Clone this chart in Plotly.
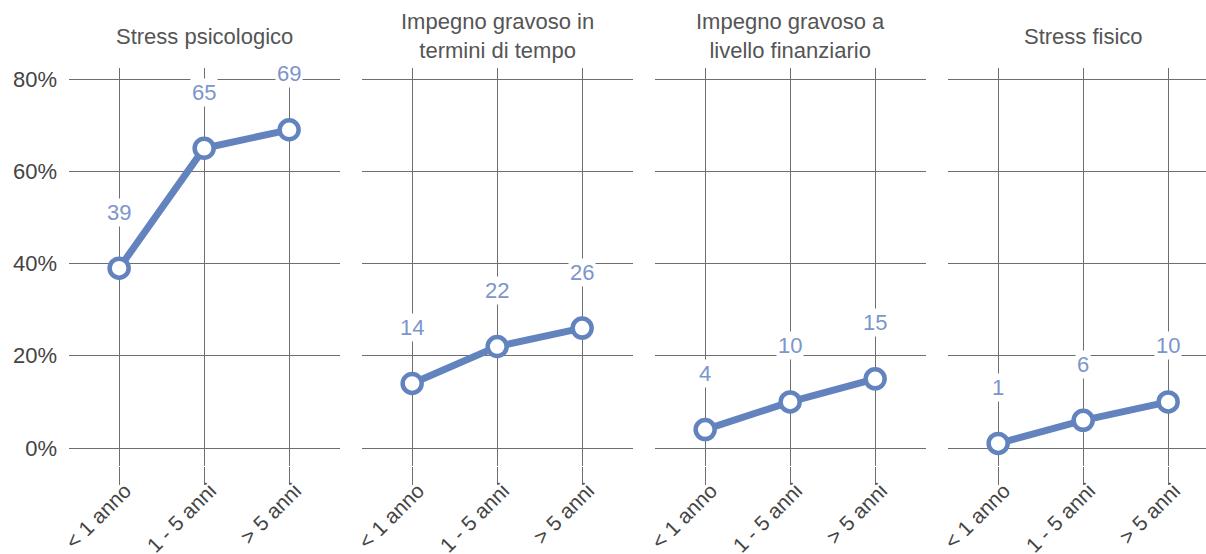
import plotly.graph_objects as go

# Survey results: share of respondents per burden type, by time spent caregiving
categories = ["< 1 anno", "1 - 5 anni", "> 5 anni"]
panel_titles = [
    "Stress psicologico",
    "Impegno gravoso in<br>termini di tempo",
    "Impegno gravoso a<br>livello finanziario",
    "Stress fisico",
]
stress_psicologico = [39, 65, 69]
impegno_tempo = [14, 22, 26]
impegno_finanziario = [4, 10, 15]
stress_fisico = [1, 6, 10]
series = [stress_psicologico, impegno_tempo, impegno_finanziario, stress_fisico]
y_ticks = [0, 20, 40, 60, 80]

LINE_BLUE = "#6383bf"
LABEL_BLUE = "#7c95cb"
GRID = "#6e6e6e"
TEXT = "#555555"
FONT = "Liberation Sans"

W, H = 1206, 554
ML = 69
plot_w = W - ML
panel_px = 271
step_px = 293

fig = go.Figure()

for i, vals in enumerate(series):
    n = i + 1
    xa = "x" if n == 1 else f"x{n}"
    ya = "y" if n == 1 else f"y{n}"
    x0 = i * step_px
    x1 = min(x0 + panel_px, plot_w)
    dom = [x0 / plot_w, x1 / plot_w]
    xr_max = -0.59 + (x1 - x0) / 85.0

    fig.add_trace(go.Scatter(
        x=categories, y=vals, xaxis=xa, yaxis=ya,
        mode="lines+markers",
        line=dict(color=LINE_BLUE, width=7),
        marker=dict(size=19, color="white", line=dict(color=LINE_BLUE, width=4.5)),
        cliponaxis=False, showlegend=False, hoverinfo="skip",
    ))

    fig.layout[f"xaxis{'' if n == 1 else n}"] = dict(
        domain=dom, anchor=ya, type="category",
        range=[-0.59, xr_max], automargin=False,
        showgrid=True, gridcolor=GRID, gridwidth=1,
        ticks="outside", ticklen=18, tickcolor=GRID, tickwidth=1,
        ticklabelstandoff=-15, ticklabelshift=6,
        tickangle=-45, tickfont=dict(family=FONT, size=21, color="#444444"),
        showline=False, zeroline=False, fixedrange=True,
    )
    fig.layout[f"yaxis{'' if n == 1 else n}"] = dict(
        domain=[0, 1], anchor=xa, automargin=False,
        range=[-3.9, 82.4],
        tickvals=y_ticks, ticktext=[f"{v}%" for v in y_ticks],
        showticklabels=(n == 1), ticklabelstandoff=11,
        tickfont=dict(family=FONT, size=22, color="#444444"),
        showgrid=True, gridcolor=GRID, gridwidth=1,
        zeroline=False, showline=False, ticks="", fixedrange=True,
    )

    # value labels above each point
    for c, v in zip(categories, vals):
        fig.add_annotation(
            x=c, y=v, xref=xa, yref=ya, text=str(v),
            showarrow=False, yshift=56, bgcolor="white", borderpad=1,
            font=dict(family=FONT, size=22, color=LABEL_BLUE),
        )

    # panel title, centred over the panel
    fig.add_annotation(
        x=(x0 + panel_px / 2) / plot_w, xanchor="center",
        y=1, xref="paper", yref="paper", yanchor="middle", yshift=32,
        text=panel_titles[i], showarrow=False,
        font=dict(family=FONT, size=22, color=TEXT),
    )

fig.update_layout(
    width=W, height=H,
    margin=dict(l=ML, r=0, t=68, b=88),
    plot_bgcolor="white", paper_bgcolor="white",
)

fig.write_html("out.html")
